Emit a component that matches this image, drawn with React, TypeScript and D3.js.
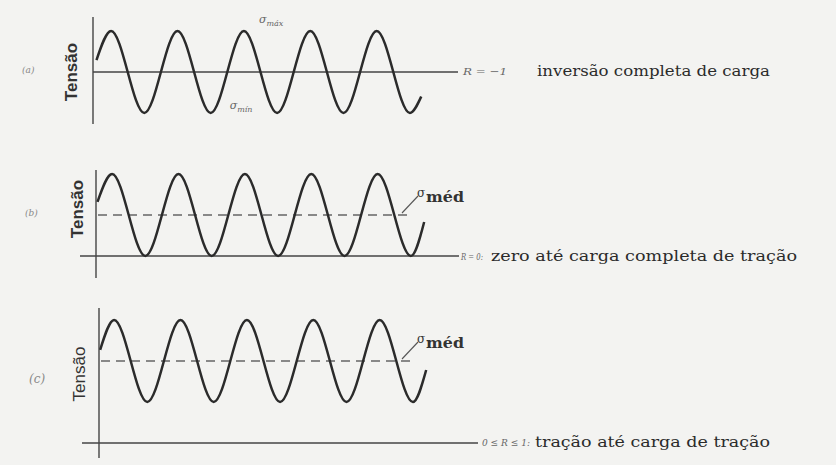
import React from "react";
import * as d3 from "d3";

const W = 836;
const H = 465;

// Load-cycle times (in cycles) of each peak and valley
const extremaTimes = [0.25, 0.75, 1.25, 1.75, 2.25, 2.75, 3.25, 3.75, 4.25, 4.75];
// Stress levels per case, in units of the stress amplitude
const sigmaMax = [1, 2, 3];
const sigmaMin = [-1, 0, 1];
const sigmaMean = [0, 1, 2];
// First and last drawn point of each curve: [cycle, stress]
const startPoints = [
  [0.03, 0.29],
  [0.03, 1.32],
  [0.04, 2.27],
];
const endPoints = [
  [4.92, -0.6],
  [4.95, 0.83],
  [4.95, 1.78],
];
const panelIds = ["(a)", "(b)", "(c)"];
const ratioLabels = ["R = −1", "R = 0:", "0 ≤ R ≤ 1:"];
const loadLabels = [
  "inversão completa de carga",
  "zero até carga completa de tração",
  "tração até carga de tração",
];
const axisTitle = "Tensão";

// Page layout of the three stacked cases
const layout = [
  {
    x0: 94.5, yZero: 72, axisX: 93, axisTop: 17, axisBottom: 124,
    baseFrom: 93, baseTo: 458, dashTo: 0,
    titleX: 77, titleY: 72, titleWeight: "bold",
    idX: 22, idY: 73, idSize: 9,
    ratioX: 463, ratioW: 44, loadX: 537, loadW: 233, textY: 76,
  },
  {
    x0: 95.5, yZero: 256, axisX: 96, axisTop: 170, axisBottom: 278,
    baseFrom: 80, baseTo: 459, dashTo: 412,
    titleX: 83, titleY: 209, titleWeight: "bold",
    idX: 25, idY: 216, idSize: 9,
    ratioX: 461, ratioW: 22, loadX: 491, loadW: 306, textY: 261,
  },
  {
    x0: 97.5, yZero: 443, axisX: 99, axisTop: 308, axisBottom: 458,
    baseFrom: 82, baseTo: 478, dashTo: 412,
    titleX: 85, titleY: 374, titleWeight: "normal",
    idX: 29, idY: 383, idSize: 12,
    ratioX: 482, ratioW: 48, loadX: 535, loadW: 235, textY: 447,
  },
];

const PERIOD_PX = 66.4;
const AMP_PX = 41;

const ink = "#2b2b2b";
const serif = "'DejaVu Serif', 'Liberation Serif', serif";
const sans = "'Liberation Sans', Arial, sans-serif";

function scalesFor(i: number) {
  const L = layout[i];
  const x = d3.scaleLinear().domain([0, 1]).range([L.x0, L.x0 + PERIOD_PX]);
  const y = d3.scaleLinear().domain([0, 1]).range([L.yZero, L.yZero - AMP_PX]);
  return { x, y };
}

function Panel({ i }: { i: number }) {
  const L = layout[i];
  const { x, y } = scalesFor(i);

  const pts: [number, number][] = [
    startPoints[i] as [number, number],
    ...extremaTimes.map((t, k) => [t, k % 2 === 0 ? sigmaMax[i] : sigmaMin[i]] as [number, number]),
    endPoints[i] as [number, number],
  ];
  const line = d3
    .line<[number, number]>()
    .x((d) => x(d[0]))
    .y((d) => y(d[1]))
    .curve(d3.curveMonotoneX);

  const yMean = y(sigmaMean[i]);

  return (
    <g>
      {/* stress axis */}
      <line x1={L.axisX} x2={L.axisX} y1={L.axisTop} y2={L.axisBottom} stroke="#444" strokeWidth={1.4} />
      {/* zero-stress line */}
      <line x1={L.baseFrom} x2={L.baseTo} y1={y(0)} y2={y(0)} stroke="#444" strokeWidth={1.4} />
      {/* mean stress */}
      {L.dashTo > 0 && (
        <line
          x1={L.axisX + 2}
          x2={L.dashTo}
          y1={yMean}
          y2={yMean}
          stroke="#666"
          strokeWidth={1.4}
          strokeDasharray="9 6"
        />
      )}
      <path d={line(pts) || ""} fill="none" stroke={ink} strokeWidth={2.5} strokeLinejoin="round" />

      <text
        transform={`translate(${L.titleX},${L.titleY}) rotate(-90)`}
        textAnchor="middle"
        fontFamily={sans}
        fontWeight={L.titleWeight}
        fontSize={17}
        fill="#333"
      >
        {axisTitle}
      </text>
      <text x={L.idX} y={L.idY} fontFamily={serif} fontStyle="italic" fontSize={L.idSize} fill="#888">
        {panelIds[i]}
      </text>
      <text
        x={L.ratioX}
        y={L.textY - 1}
        fontFamily={serif}
        fontStyle="italic"
        fontSize={10}
        fill="#666"
        textLength={L.ratioW}
        lengthAdjust="spacingAndGlyphs"
      >
        {ratioLabels[i]}
      </text>
      <text
        x={L.loadX}
        y={L.textY}
        fontFamily={serif}
        fontSize={15}
        fill={ink}
        textLength={L.loadW}
        lengthAdjust="spacingAndGlyphs"
      >
        {loadLabels[i]}
      </text>

      {i > 0 && (
        <g>
          <line x1={402} y1={yMean - 2} x2={418} y2={yMean - 19} stroke="#555" strokeWidth={1.1} />
          <text x={417} y={yMean - 18} fontFamily={serif} fontSize={12} fill="#333">
            σ
          </text>
          <text
            x={426}
            y={yMean - 13}
            fontFamily={serif}
            fontWeight="bold"
            fontSize={14}
            fill="#333"
            textLength={38}
            lengthAdjust="spacingAndGlyphs"
          >
            méd
          </text>
        </g>
      )}
    </g>
  );
}

export default function App() {
  const { x, y } = scalesFor(0);
  return (
    <svg width={W} height={H} style={{ position: "absolute", left: 0, top: 0, background: "#f3f3f1" }}>
      <rect width={W} height={H} fill="#f3f3f1" />
      {layout.map((_, i) => (
        <Panel key={i} i={i} />
      ))}
      {/* extreme stress markers of the fully reversed case */}
      <text x={x(2.25) + 15} y={y(sigmaMax[0]) - 8} fontFamily={serif} fontStyle="italic" fontSize={11} fill="#666">
        σ<tspan fontSize={8} dy={3}>máx</tspan>
      </text>
      <text x={x(1.75) + 19} y={y(sigmaMin[0]) - 4} fontFamily={serif} fontStyle="italic" fontSize={11} fill="#666">
        σ<tspan fontSize={8} dy={3}>mín</tspan>
      </text>
    </svg>
  );
}
